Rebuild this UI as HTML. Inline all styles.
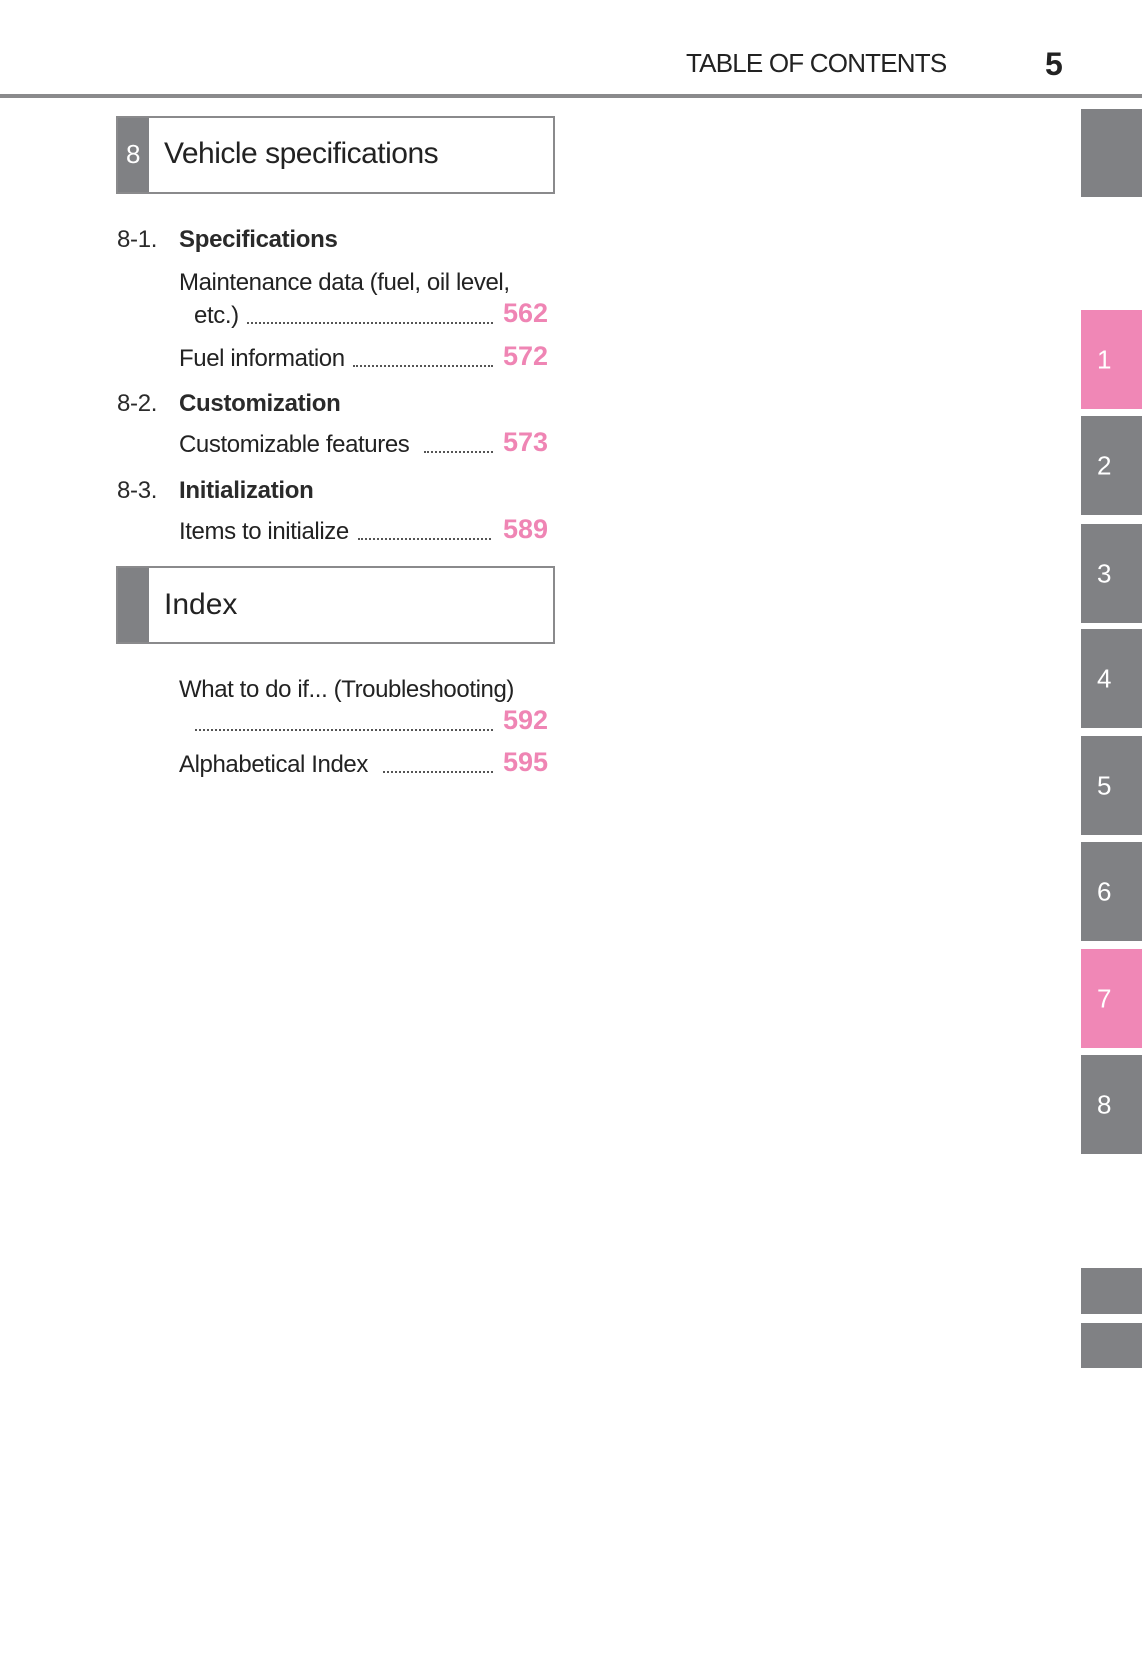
<!DOCTYPE html><html><head><style>
body{margin:0;width:1142px;height:1654px;background:#fff;position:relative;font-family:"Liberation Sans",sans-serif;color:#222;overflow:hidden}
.a{position:absolute;white-space:nowrap}
.tab{position:absolute;left:1081px;width:61px;background:#808184;color:#fff;font-size:26px}
.tab span{position:absolute;left:16px;top:50%;transform:translateY(-50%)}
.pk{background:#f087b6}
.box{position:absolute;left:116px;width:435px;border:2px solid #8a8a8c;height:74px}
.box .g{position:absolute;left:0;top:0;bottom:0;width:31px;background:#808184}
.t{font-size:24px;letter-spacing:-0.4px}
.h{font-size:24px;font-weight:bold;letter-spacing:-0.3px;color:#2a2a2a}
.n{position:absolute;right:594px;color:#ef85b4;font-weight:700;font-size:27px}
.d{position:absolute;border-bottom:2px dotted #555;height:0}
</style></head><body>
<div class="a" style="left:686px;top:48px;font-size:26px;letter-spacing:-0.8px">TABLE OF CONTENTS</div>
<div class="a" style="left:1045px;top:46px;font-size:32px;font-weight:bold">5</div>
<div class="a" style="left:0;top:94px;width:1142px;height:4px;background:#8a8a8c"></div>
<div class="tab" style="top:109px;height:88px"></div>
<div class="tab pk" style="top:310px;height:99px"><span>1</span></div>
<div class="tab" style="top:416px;height:99px"><span>2</span></div>
<div class="tab" style="top:524px;height:99px"><span>3</span></div>
<div class="tab" style="top:629px;height:99px"><span>4</span></div>
<div class="tab" style="top:736px;height:99px"><span>5</span></div>
<div class="tab" style="top:842px;height:99px"><span>6</span></div>
<div class="tab pk" style="top:949px;height:99px"><span>7</span></div>
<div class="tab" style="top:1055px;height:99px"><span>8</span></div>
<div class="tab" style="top:1268px;height:46px"></div>
<div class="tab" style="top:1323px;height:45px"></div>

<div class="box" style="top:116px"><div class="g"></div><div class="a" style="left:8px;top:21px;color:#fff;font-size:26px">8</div><div class="a" style="left:46px;top:19px;font-size:30px;letter-spacing:-0.5px">Vehicle specifications</div></div>

<div class="a h" style="left:117px;top:226px;font-weight:normal">8-1.</div><div class="a h" style="left:179px;top:226px">Specifications</div>
<div class="a t" style="left:179px;top:269px">Maintenance data (fuel, oil level,</div>
<div class="a t" style="left:194px;top:302px">etc.)</div><div class="d" style="left:247px;width:246px;top:322px"></div><div class="n" style="top:298px">562</div>
<div class="a t" style="left:179px;top:345px">Fuel information</div><div class="d" style="left:353px;width:140px;top:365px"></div><div class="n" style="top:341px">572</div>
<div class="a h" style="left:117px;top:390px;font-weight:normal">8-2.</div><div class="a h" style="left:179px;top:390px">Customization</div>
<div class="a t" style="left:179px;top:431px">Customizable features</div><div class="d" style="left:424px;width:69px;top:451px"></div><div class="n" style="top:427px">573</div>
<div class="a h" style="left:117px;top:477px;font-weight:normal">8-3.</div><div class="a h" style="left:179px;top:477px">Initialization</div>
<div class="a t" style="left:179px;top:518px">Items to initialize</div><div class="d" style="left:358px;width:133px;top:538px"></div><div class="n" style="top:514px">589</div>

<div class="box" style="top:566px"><div class="g"></div><div class="a" style="left:46px;top:20px;font-size:30px">Index</div></div>

<div class="a t" style="left:179px;top:676px">What to do if... (Troubleshooting)</div>
<div class="d" style="left:195px;width:298px;top:729px"></div><div class="n" style="top:705px">592</div>
<div class="a t" style="left:179px;top:751px">Alphabetical Index</div><div class="d" style="left:383px;width:110px;top:771px"></div><div class="n" style="top:747px">595</div>
</body></html>
